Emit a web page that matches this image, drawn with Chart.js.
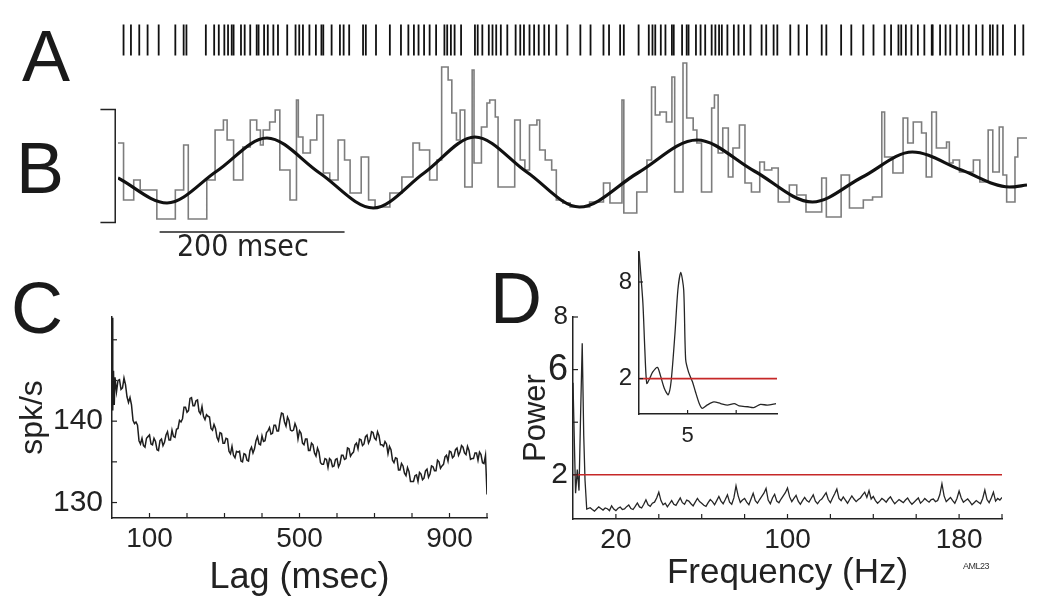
<!DOCTYPE html>
<html lang="en">
<head>
<meta charset="UTF-8">
<title>Theta rhythmic spiking</title>
<script src="https://cdn.jsdelivr.net/npm/chart.js"></script>
<style>
  body { margin: 0; background: #fff; width: 1050px; height: 608px; position: relative; overflow: hidden;
         font-family: "Liberation Sans", Arial, sans-serif; }
  canvas { position: absolute; }
  .letter { position: absolute; font-size: 72px; line-height: 72px; color: #1a1a1a; z-index: 5; }
  .tag { position: absolute; left: 963px; top: 561px; font-size: 9px; color: #333; letter-spacing: -0.5px; z-index: 5; }
</style>
</head>
<body>

<div class="letter" style="left:22px;top:20px">A</div>
<div class="letter" style="left:16px;top:132px">B</div>
<div class="letter" style="left:11px;top:272px">C</div>
<div class="letter" style="left:490px;top:262px">D</div>
<div class="tag">AML23</div>

<canvas id="rasterA" width="1050" height="80" style="left:0;top:0"></canvas>
<canvas id="rateB" width="1050" height="215" style="left:0;top:50px"></canvas>
<canvas id="corrC" width="500" height="318" style="left:0;top:290px"></canvas>
<canvas id="specD" width="550" height="318" style="left:500px;top:290px"></canvas>
<canvas id="insetD" width="200" height="220" style="left:590px;top:230px"></canvas>

<script>
// ---- A: spike times (msec)
const spikeMs = [6,14,23,32,44,62,71,74,95,104,109,115,119,123,125,133,137,143,150,152,
  158,162,168,173,183,192,196,200,207,214,220,222,231,240,244,250,265,268,279,294,
  306,314,320,325,331,337,344,353,356,360,364,371,386,389,394,401,405,409,414,421,
  430,435,439,445,450,455,461,466,474,486,500,511,525,531,543,547,563,574,578,581,
  587,592,599,601,610,615,617,625,630,635,642,646,650,653,659,666,671,677,684,696,
  701,709,713,727,736,745,761,766,782,793,806,817,829,836,844,847,852,858,865,872,
  880,881,889,895,900,907,914,920,928,935,943,946,951,957,970,979];

// ---- B: binned rate (step) and fitted sinusoid, arbitrary rate units
const stepMs = [0,6,17,24,42,62,71,76,96,105,
  114,118,125,135,143,150,154,157,164,170,
  175,186,193,195,200,208,215,222,229,238,
  245,251,263,271,278,294,307,319,326,337,
  345,350,357,361,366,370,375,383,385,393,
  399,402,408,411,429,435,440,445,453,456,
  462,469,474,481,489,510,525,532,545,547,
  561,572,577,581,586,593,599,602,611,615,
  622,626,631,642,645,649,654,660,665,672,
  678,685,694,699,707,714,726,734,744,761,
  766,782,791,806,816,826,829,838,849,854,
  860,869,874,880,885,896,899,903,910,925,
  932,941,946,953,957,961,970,973,983];
const stepRate = [82,25,45,35,6,35,80,6,45,95,
  105,85,45,78,105,95,80,95,103,115,
  55,25,125,88,72,85,110,52,45,85,
  65,32,68,25,18,32,48,82,75,45,
  65,158,145,112,85,115,38,155,62,98,
  122,125,108,38,105,65,55,100,105,75,
  65,55,25,22,18,23,42,22,125,12,
  33,65,138,110,113,103,148,33,162,107,
  95,82,33,117,130,72,97,48,77,100,
  42,33,63,55,57,23,40,30,13,47,
  8,50,17,25,28,113,68,52,107,82,
  103,92,48,113,77,83,62,65,53,65,
  43,95,53,98,50,23,68,87,87];
const sineMs = [0,53,107,161,218,276,331,386,442,499,562,626,688,751,805,859,912,964,983];
const sineRate = [47,22,54,87,52,17,52,88,53,18,52,85,54,23,48,73,55,38,40];
const barStartMs = 45, barLengthMs = 200, barLevel = -7, barLabel = '200 msec';
const bracketLow = 2.5, bracketHigh = 115.5, bracketMs = -3, bracketStubMs = -19;

// ---- C: autocorrelogram (spk/s vs lag)
const lagC = [0,2,4,6,8,12,
  16,20,24,28,32,36,40,44,48,52,
  56,60,64,68,72,76,80,84,88,92,
  96,100,104,108,112,116,120,124,128,132,
  136,140,144,148,152,156,160,164,168,172,
  176,180,184,188,192,196,200,204,208,212,
  216,220,224,228,232,236,240,244,248,252,
  256,260,264,268,272,276,280,284,288,292,
  296,300,304,308,312,316,320,324,328,332,
  336,340,344,348,352,356,360,364,368,372,
  376,380,384,388,392,396,400,404,408,412,
  416,420,424,428,432,436,440,444,448,452,
  456,460,464,468,472,476,480,484,488,492,
  496,500,504,508,512,516,520,524,528,532,
  536,540,544,548,552,556,560,564,568,572,
  576,580,584,588,592,596,600,604,608,612,
  616,620,624,628,632,636,640,644,648,652,
  656,660,664,668,672,676,680,684,688,692,
  696,700,704,708,712,716,720,724,728,732,
  736,740,744,748,752,756,760,764,768,772,
  776,780,784,788,792,796,800,804,808,812,
  816,820,824,828,832,836,840,844,848,852,
  856,860,864,868,872,876,880,884,888,892,
  896,900,904,908,912,916,920,924,928,932,
  936,940,944,948,952,956,960,964,968,972,
  976,980,984,988,992,996,1000];
const rateC = [152.7,141.3,146.2,142.0,145.4,143.6,
  145.0,145.1,143.9,144.1,145.3,144.5,143.0,142.3,142.9,142.0,
  140.1,139.7,139.9,139.5,137.6,137.2,137.9,137.0,136.8,137.9,
  138.1,138.3,137.2,137.1,137.9,137.5,136.5,136.4,137.6,137.8,
  137.0,137.4,138.3,138.7,137.7,137.7,138.9,138.1,138.0,139.0,
  139.1,140.1,139.9,140.3,141.7,141.7,141.1,141.3,142.8,142.9,
  141.9,141.9,142.5,142.6,141.2,140.9,141.8,140.6,140.2,140.8,
  140.6,140.5,139.1,138.9,139.6,139.1,138.0,137.6,138.6,138.5,
  137.3,137.3,137.9,137.8,136.3,136.0,136.9,135.8,135.5,136.3,
  136.2,136.3,135.1,135.0,136.0,135.9,135.2,135.1,136.4,136.8,
  136.1,136.6,137.6,138.1,137.2,137.1,138.2,137.5,137.6,138.6,
  138.8,139.2,138.4,138.5,139.5,139.5,138.8,138.8,140.1,141.0,
  140.9,139.9,139.4,140.5,140.1,138.9,138.8,138.9,139.7,139.2,
  137.8,138.8,138.5,137.3,137.1,137.8,137.8,136.4,136.4,137.3,
  137.1,136.1,135.7,136.7,136.2,134.9,134.7,134.7,135.4,135.3,
  134.3,135.4,135.2,134.4,134.5,135.3,135.4,134.4,134.8,135.8,
  135.8,135.3,135.4,136.7,136.6,135.7,136.0,136.2,137.1,137.3,
  136.6,137.8,137.7,137.0,137.2,138.1,138.3,137.3,137.7,138.7,
  138.6,137.9,137.7,138.7,138.2,137.1,137.1,136.9,137.5,137.2,
  136.0,136.9,136.5,135.2,134.9,135.5,135.4,134.0,134.0,134.8,
  134.5,133.6,133.3,134.3,133.8,132.6,132.6,132.6,133.3,133.4,
  132.6,133.7,133.5,132.8,133.0,133.9,134.1,133.1,133.5,134.5,
  134.4,133.9,133.9,135.2,135.0,134.2,134.5,134.7,135.6,135.8,
  135.1,136.3,136.2,135.5,135.7,136.5,136.7,135.8,136.2,137.0,
  136.8,136.1,135.9,136.9,136.4,135.3,135.4,135.4,136.1,136.1,
  135.2,136.2,135.9,134.9,134.8,135.8,131.0];
const ticksCx = [100,200,300,400,500,600,700,800,900,1000];
const labelsCx = [100,500,900];
const ticksCy = [130,135,140,145,150];
const labelsCy = [130,140];

// ---- D: power spectrum, full range and low-frequency inset
const freqD = [0,0.7,1.2,2.0,2.8,3.6,4.3,5.0,5.6,6.4,
  8,9,10,11,12,13,14,15,16,17,
  18,19,20,21,22,23,24,25,26,27,
  28,29,30,31,32,33,34,35,36,37,
  38,39,40,41,42,43,44,45,46,47,
  48,49,50,51,52,53,54,55,56,57,
  58,59,60,61,62,63,64,65,66,67,
  68,69,70,71,72,73,74,75,76,77,
  78,79,80,81,82,83,84,85,86,87,
  88,89,90,91,92,93,94,95,96,97,
  98,99,100,101,102,103,104,105,106,107,
  108,109,110,111,112,113,114,115,116,117,
  118,119,120,121,122,123,124,125,126,127,
  128,129,130,131,132,133,134,135,136,137,
  138,139,140,141,142,143,144,145,146,147,
  148,149,150,151,152,153,154,155,156,157,
  158,159,160,161,162,163,164,165,166,167,
  168,169,170,171,172,173,174,175,176,177,
  178,179,180,181,182,183,184,185,186,187,
  188,189,190,191,192,193,194,195,196,197,
  198,199,200];
const powerD = [5.5,3.0,1.3,2.2,1.4,4.5,7.0,3.5,1.8,0.7,
  0.75,0.68,0.62,0.70,0.78,0.72,0.66,0.74,0.71,0.64,
  0.82,0.70,0.64,0.73,0.77,0.68,0.70,0.79,0.85,0.72,
  0.68,0.80,0.93,0.78,0.74,0.88,1.05,0.86,0.80,0.92,
  0.96,1.12,1.34,1.02,0.86,0.92,0.78,0.90,1.02,0.88,
  0.84,0.98,1.12,0.94,0.88,1.04,1.00,0.90,0.82,0.96,
  1.10,0.98,0.92,0.84,0.80,0.94,1.06,0.98,0.86,1.02,
  1.18,1.00,0.90,1.06,1.24,0.96,0.88,1.12,1.58,1.20,
  0.95,1.04,1.10,0.96,0.86,1.08,1.30,1.02,0.92,1.06,
  1.18,1.30,1.48,1.04,0.90,1.12,1.26,1.00,0.94,1.08,
  1.20,1.32,1.50,1.16,0.98,1.10,1.22,1.00,0.88,1.02,
  1.14,1.02,0.96,1.10,1.24,1.00,0.90,1.02,1.08,1.20,
  1.32,1.06,0.94,1.12,1.28,1.46,1.10,1.02,1.16,1.04,
  0.92,1.06,1.20,1.08,0.98,1.06,1.12,1.24,1.34,1.14,
  1.40,1.08,1.18,1.02,0.92,1.00,1.10,1.04,0.96,1.08,
  1.16,1.02,0.90,0.98,1.06,1.00,0.94,1.04,1.12,0.98,
  0.88,0.96,1.04,1.12,0.92,1.00,1.10,1.02,0.96,1.06,
  1.08,0.98,1.02,1.24,1.66,1.20,0.98,1.06,1.14,1.02,
  0.92,1.10,1.38,1.12,0.96,1.02,1.08,0.98,0.86,0.94,
  1.02,0.96,0.90,1.10,1.42,1.06,0.94,1.12,1.34,1.00,
  1.10,1.04,1.14];
const freqIn = [0,0.4,0.6,0.8,1.1,1.4,1.9,2.2,2.6,3.0,3.3,3.7,4.0,4.3,4.6,4.8,
  5.1,5.5,5.8,6.2,6.5,7.0,7.7,8.4,9.1,9.8,10.3,11.2,11.8,12.5,13.2,14.1];
const powerIn = [9.9,6.7,3.8,1.7,2.0,2.4,2.7,2.2,1.4,1.0,1.8,4.8,7.5,8.6,7.5,3.2,
  2.4,1.8,1.2,0.45,0.15,0.35,0.55,0.45,0.35,0.45,0.3,0.25,0.2,0.4,0.35,0.45];
const sigLevel = 2;
const ticksDx = [20,40,60,80,100,120,140,160,180,200];
const labelsDx = [20,100,180];
const ticksDy = [2,4,6,8];
const labelsDy = [2,6,8];
const labelSizeDy = {2: 30, 6: 36, 8: 26};

Chart.defaults.font.family = '"Liberation Sans", Arial, sans-serif';
Chart.defaults.color = '#222';

const pairs = (xs, ys) => xs.map((x, i) => ({x: x, y: ys[i]}));
const ink = '#222';

// short tick marks pointing into the plot, like the original figure
const innerTicks = {
  id: 'innerTicks',
  afterDraw(chart, args, opts) {
    const ctx = chart.ctx;
    ctx.save();
    ctx.strokeStyle = ink;
    ctx.lineWidth = 1.2;
    ['x', 'y'].forEach(id => {
      const s = chart.scales[id];
      s.ticks.forEach(t => {
        const p = s.getPixelForValue(t.value);
        ctx.beginPath();
        if (s.isHorizontal()) { ctx.moveTo(p, s.top); ctx.lineTo(p, s.top - opts.len); }
        else { ctx.moveTo(s.right, p); ctx.lineTo(s.right + opts.len, p); }
        ctx.stroke();
      });
    });
    ctx.restore();
  }
};

const barText = {
  id: 'barText',
  afterDatasetsDraw(chart) {
    const {x, y} = chart.scales;
    const ctx = chart.ctx;
    ctx.save();
    ctx.font = '30px "Liberation Sans Narrow", "DejaVu Sans Condensed", sans-serif';
    ctx.fillStyle = ink;
    ctx.textAlign = 'center';
    ctx.textBaseline = 'top';
    ctx.fillText(barLabel, x.getPixelForValue(barStartMs + 90), y.getPixelForValue(barLevel) + 1);
    ctx.restore();
  }
};

function axis(opts) {
  // linear axis with fixed tick list, selected labels and a fixed box size
  return {
    type: 'linear',
    position: opts.position,
    min: opts.min, max: opts.max,
    grid: { display: false, drawTicks: false },
    border: { display: true, color: ink, width: 1.5 },
    afterBuildTicks: s => { s.ticks = opts.ticks.map(v => ({value: v})); },
    afterFit: s => { if (opts.width) s.width = opts.width; if (opts.height) s.height = opts.height; },
    ticks: {
      autoSkip: false, maxRotation: 0, padding: opts.pad, color: ink,
      font: opts.font,
      callback: v => opts.labels.includes(v) ? String(v) : ''
    },
    title: opts.title ? {
      display: true, text: opts.title, color: ink,
      font: { size: opts.titleSize }, padding: opts.titlePad
    } : { display: false }
  };
}

const base = { responsive: false, animation: false, devicePixelRatio: 1, events: [],
  plugins: { legend: { display: false }, tooltip: { enabled: false } } };

// A: raster
new Chart(document.getElementById('rasterA'), {
  type: 'scatter',
  data: { datasets: [{
    data: spikeMs.map(t => ({x: t, y: 0.5})),
    pointStyle: 'line', rotation: 90, pointRadius: 15.5,
    borderColor: '#111', borderWidth: 1.8, backgroundColor: '#111'
  }]},
  options: { ...base,
    layout: { padding: { left: 118, right: 23, top: 0, bottom: 0 } },
    scales: { x: { type: 'linear', display: false, min: 0, max: 983 },
              y: { display: false, min: 0, max: 1 } } }
});

// B: rate + sinusoid
new Chart(document.getElementById('rateB'), {
  type: 'line',
  data: { datasets: [
    { data: pairs(sineMs, sineRate), borderColor: '#111', borderWidth: 3.2,
      cubicInterpolationMode: 'monotone', pointRadius: 0 },
    { data: pairs(stepMs, stepRate), borderColor: '#7d7d7d', borderWidth: 1.6,
      stepped: true, pointRadius: 0 },
    { data: [{x: bracketStubMs, y: bracketHigh}, {x: bracketMs, y: bracketHigh},
             {x: bracketMs, y: bracketLow}, {x: bracketStubMs, y: bracketLow}],
      borderColor: ink, borderWidth: 1.5, pointRadius: 0, clip: false },
    { data: [{x: barStartMs, y: barLevel}, {x: barStartMs + barLengthMs, y: barLevel}],
      borderColor: ink, borderWidth: 1.3, pointRadius: 0, clip: false }
  ]},
  options: { ...base,
    layout: { padding: { left: 118, right: 23, top: 0, bottom: 0 } },
    scales: { x: { type: 'linear', display: false, min: 0, max: 983 },
              y: { display: false, min: -40, max: 175 } } },
  plugins: [barText]
});

// C: autocorrelogram
new Chart(document.getElementById('corrC'), {
  type: 'line',
  data: { datasets: [{ data: pairs(lagC, rateC), borderColor: '#1e1e1e', borderWidth: 1.5,
    pointRadius: 0, tension: 0 }]},
  options: { ...base,
    layout: { padding: { left: 0, top: 18, right: 13, bottom: 0 } },
    plugins: { ...base.plugins, innerTicks: { len: 5 } },
    scales: {
      x: axis({ position: 'bottom', min: 0, max: 1000, ticks: ticksCx, labels: labelsCx,
        height: 90, pad: 4, font: { size: 28 }, title: 'Lag (msec)', titleSize: 36,
        titlePad: { top: 0, bottom: 8 } }),
      y: axis({ position: 'left', min: 128.1, max: 152.8, ticks: ticksCy, labels: labelsCy,
        width: 112, pad: 9, font: { size: 30 }, title: 'spk/s', titleSize: 32,
        titlePad: { top: 14, bottom: 0 } })
    } },
  plugins: [innerTicks]
});

// D: power spectrum
new Chart(document.getElementById('specD'), {
  type: 'line',
  data: { datasets: [
    { data: [{x: 0, y: sigLevel}, {x: 200, y: sigLevel}], borderColor: '#c62828',
      borderWidth: 1.6, pointRadius: 0 },
    { data: pairs(freqD, powerD), borderColor: '#262626', borderWidth: 1.3,
      pointRadius: 0, tension: 0 }
  ]},
  options: { ...base,
    layout: { padding: { left: 0, top: 27, right: 48, bottom: 0 } },
    plugins: { ...base.plugins, innerTicks: { len: 5 } },
    scales: {
      x: axis({ position: 'bottom', min: 0, max: 200, ticks: ticksDx, labels: labelsDx,
        height: 89, pad: 4, font: { size: 28 }, title: 'Frequency (Hz)', titleSize: 35,
        titlePad: { top: 0, bottom: 14 } }),
      y: axis({ position: 'left', min: 0.32, max: 8, ticks: ticksDy, labels: labelsDy,
        width: 73, pad: 5, font: c => ({ size: labelSizeDy[c.tick && c.tick.value] || 26 }),
        title: 'Power', titleSize: 31, titlePad: { top: 18, bottom: 0 } })
    } },
  plugins: [innerTicks]
});

// D inset: 0-14 Hz
new Chart(document.getElementById('insetD'), {
  type: 'line',
  data: { datasets: [
    { data: [{x: 0, y: sigLevel}, {x: 14.2, y: sigLevel}], borderColor: '#c62828',
      borderWidth: 1.6, pointRadius: 0 },
    { data: pairs(freqIn, powerIn), borderColor: '#262626', borderWidth: 1.3,
      pointRadius: 0, tension: 0.25 }
  ]},
  options: { ...base,
    layout: { padding: { left: 0, top: 13, right: 13, bottom: 0 } },
    plugins: { ...base.plugins, innerTicks: { len: 4 } },
    scales: {
      x: axis({ position: 'bottom', min: 0, max: 14.2, ticks: [5, 10], labels: [5],
        height: 36, pad: 9, font: { size: 22 } }),
      y: axis({ position: 'left', min: -0.2, max: 9.9, ticks: [2, 8], labels: [2, 8],
        width: 49, pad: 7, font: { size: 24 } })
    } },
  plugins: [innerTicks]
});
</script>
</body>
</html>
